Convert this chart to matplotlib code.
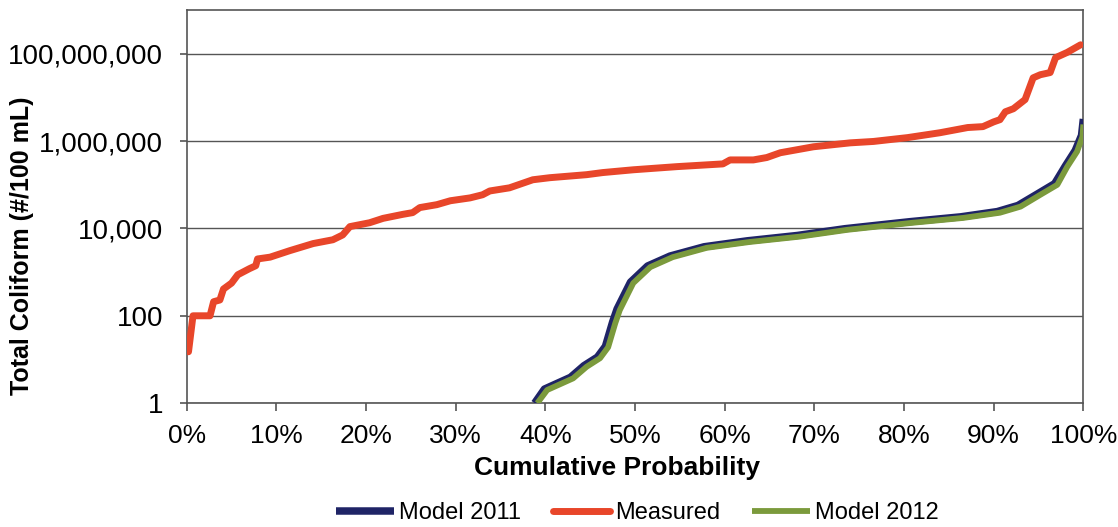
import numpy as np
import matplotlib
matplotlib.use('Agg')
import matplotlib.pyplot as plt
from matplotlib.ticker import FixedLocator, FuncFormatter, NullLocator

plt.rcParams['font.family'] = ['Liberation Sans', 'DejaVu Sans']

# Measured total coliform
meas_p = [0.002, 0.007, 0.026, 0.030, 0.037, 0.041, 0.050, 0.057, 0.070, 0.077,
          0.079, 0.093, 0.115, 0.141, 0.163, 0.174, 0.182, 0.204, 0.219, 0.241,
          0.252, 0.260, 0.279, 0.294, 0.316, 0.330, 0.338, 0.360, 0.386, 0.405,
          0.446, 0.464, 0.498, 0.547, 0.598, 0.606, 0.632, 0.647, 0.662, 0.699,
          0.740, 0.766, 0.804, 0.840, 0.871, 0.888, 0.900, 0.907, 0.913, 0.922,
          0.935, 0.944, 0.952, 0.963, 0.969, 0.982, 0.997]
meas_v = [15, 100, 100, 210, 230, 410, 560, 870, 1200, 1400,
          2000, 2200, 3100, 4500, 5500, 7100, 11000, 13500, 17000, 21000,
          23000, 30000, 35000, 43000, 50000, 59000, 72000, 85000, 130000, 145000,
          170000, 190000, 220000, 260000, 300000, 370000, 370000, 420000, 540000, 740000,
          910000, 980000, 1.2e6, 1.55e6, 2.04e6, 2.14e6, 2.75e6, 3.09e6, 4.68e6, 5.5e6,
          8.9e6, 2.8e7, 3.3e7, 3.7e7, 8.1e7, 1.07e8, 1.6e8]

# Model 2011
m11_p = [0.388, 0.399, 0.428, 0.443, 0.458, 0.467, 0.475, 0.480, 0.495, 0.514,
         0.539, 0.577, 0.625, 0.681, 0.734, 0.807, 0.863, 0.904, 0.927, 0.949,
         0.968, 0.980, 0.991, 0.998, 1.000]
m11_v = [1, 2.1, 3.9, 7.2, 11.3, 20, 72, 143, 590, 1380,
         2330, 3800, 5200, 6900, 9850, 14300, 18400, 24300, 33500, 62000,
         106000, 270000, 610000, 1.35e6, 3.2e6]

# Model 2012
m12_p = [0.391, 0.402, 0.431, 0.446, 0.461, 0.470, 0.478, 0.483, 0.498, 0.517,
         0.542, 0.580, 0.628, 0.684, 0.737, 0.810, 0.866, 0.907, 0.930, 0.952,
         0.971, 0.982, 0.993, 0.999, 1.000]
m12_v = [1, 2.0, 3.7, 6.8, 10.7, 19, 68, 135, 560, 1300,
         2200, 3600, 4900, 6500, 9300, 13500, 17400, 22900, 31600, 58900,
         100000, 257000, 575000, 1.26e6, 2.4e6]

y_ticks = [1, 100, 10000, 1e6, 1e8]
x_ticks = [0, 0.1, 0.2, 0.3, 0.4, 0.5, 0.6, 0.7, 0.8, 0.9, 1.0]

fig = plt.figure(figsize=(11.18, 5.27), dpi=100)
ax = fig.add_axes([0.167, 0.235, 0.802, 0.746])

ax.plot(m11_p, m11_v, color='#1f2466', lw=5.4, label='Model 2011', solid_capstyle='butt', zorder=3)
ax.plot(meas_p, meas_v, color='#e8462a', lw=5.0, label='Measured', solid_capstyle='round', zorder=3)
ax.plot(m12_p, m12_v, color='#7b9a3c', lw=4.2, label='Model 2012', solid_capstyle='butt', zorder=4)

ax.set_yscale('log')
ax.set_ylim(1, 1e9)
ax.set_xlim(0, 1)
ax.yaxis.set_major_locator(FixedLocator(y_ticks))
ax.yaxis.set_minor_locator(NullLocator())
ax.yaxis.set_major_formatter(FuncFormatter(lambda v, p: '{:,.0f}'.format(v)))
ax.xaxis.set_major_locator(FixedLocator(x_ticks))
ax.xaxis.set_major_formatter(FuncFormatter(lambda v, p: '{:.0f}%'.format(v * 100)))

ax.grid(axis='y', color='#555555', lw=1.0)
ax.set_axisbelow(True)
for s in ax.spines.values():
    s.set_color('#555555')
    s.set_linewidth(1.2)
ax.tick_params(axis='x', labelsize=19, color='#555555', length=6, width=1.2, pad=9)
ax.tick_params(axis='y', labelsize=20, color='#555555', length=5, width=1.2, pad=12)

ax.set_xlabel('Cumulative Probability', fontsize=19, fontweight='bold')
ax.xaxis.set_label_coords(0.48, -0.165)
ax.xaxis.label.set_va('center')
ax.set_ylabel('Total Coliform (#/100 mL)', fontsize=18, fontweight='bold')
ax.yaxis.set_label_coords(-0.184, 0.40)
ax.yaxis.label.set_va('center')

fig.legend(loc='center', bbox_to_anchor=(0.57, 0.026), ncol=3, frameon=False,
           fontsize=17, handlelength=2.45, handletextpad=0.2, columnspacing=1.35)

fig.savefig('out.png', dpi=100)
